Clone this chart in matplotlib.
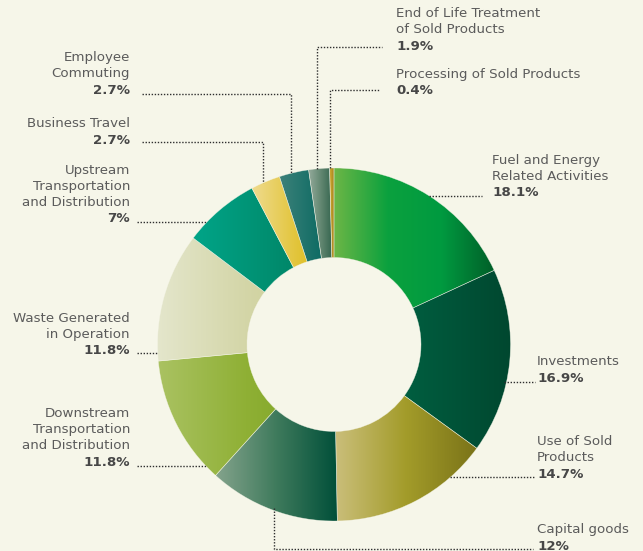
import numpy as np
import matplotlib
matplotlib.use("Agg")
import matplotlib.pyplot as plt
from matplotlib.patches import Wedge
from matplotlib.colors import LinearSegmentedColormap

# Scope 3 emission categories (share of total, %)
categories = [
    "Fuel and Energy\nRelated Activities",
    "Investments",
    "Use of Sold\nProducts",
    "Capital goods",
    "Downstream\nTransportation\nand Distribution",
    "Waste Generated\nin Operation",
    "Upstream\nTransportation\nand Distribution",
    "Business Travel",
    "Employee\nCommuting",
    "End of Life Treatment\nof Sold Products",
    "Processing of Sold Products",
]
shares = [18.1, 16.9, 14.7, 12, 11.8, 11.8, 7, 2.7, 2.7, 1.9, 0.4]
share_labels = ["18.1%", "16.9%", "14.7%", "12%", "11.8%", "11.8%",
                "7%", "2.7%", "2.7%", "1.9%", "0.4%"]

# left-to-right gradient stops for each ring segment
gradients = [
    ["#6cb646", "#0ba13e", "#009a40", "#005e28"],
    ["#006f4d", "#005a3d", "#00472f"],
    ["#cbbf7c", "#a39c2a", "#7a7318"],
    ["#84a38c", "#3e7a5c", "#004f39"],
    ["#aac262", "#8fb035", "#77a01f"],
    ["#e4e6cc", "#d4d6a8", "#c6ca8a"],
    ["#00a588", "#009072", "#007a5c"],
    ["#efdb8e", "#e3c640", "#d8b600"],
    ["#3d817a", "#00655d"],
    ["#93aa9a", "#5e846e", "#2b5d47"],
    ["#d0a830", "#9a7a18"],
]

W, H = 643, 551
BG = "#f6f6e9"
fig = plt.figure(figsize=(W / 100, H / 100), dpi=100, facecolor=BG)
ax = fig.add_axes([0, 0, 1, 1])
ax.set_xlim(0, W)
ax.set_ylim(0, H)
ax.axis("off")
ax.set_facecolor(BG)

plt.rcParams["font.family"] = ["DejaVu Sans"]

cx, cy = 334, H - 344.5
R, r_in = 176.5, 87

# ring segments, clockwise from 12 o'clock
angle = 90.0
for val, stops in zip(shares, gradients):
    sweep = 360.0 * val / sum(shares)
    t1, t2 = angle - sweep, angle
    w = Wedge((cx, cy), R, t1, t2, width=R - r_in, facecolor="none",
              edgecolor="none")
    ax.add_patch(w)
    v = w.get_path().vertices
    x0, x1 = v[:, 0].min(), v[:, 0].max()
    y0, y1 = v[:, 1].min(), v[:, 1].max()
    cmap = LinearSegmentedColormap.from_list("seg", stops)
    im = ax.imshow(np.linspace(0, 1, 256).reshape(1, -1), cmap=cmap,
                   extent=(x0, x1, y0, y1), aspect="auto",
                   interpolation="bilinear", zorder=2)
    im.set_clip_path(w)
    sep = Wedge((cx, cy), R, t1, t2, width=R - r_in, facecolor="none",
                edgecolor=BG, linewidth=0.4, alpha=0.6, zorder=3)
    ax.add_patch(sep)
    angle = t1

ax.set_xlim(0, W)
ax.set_ylim(0, H)


def on_ring_x(y_top, side):
    """x where a horizontal line at pixel row y_top meets the outer rim."""
    dy = (H - y_top) - cy
    dx = np.sqrt(max(R * R - dy * dy, 0))
    return cx + dx if side > 0 else cx - dx


def on_ring_y(x, upper=True):
    """top-based pixel row where a vertical line at x meets the outer rim."""
    dx = x - cx
    dy = np.sqrt(R * R - dx * dx)
    return H - (cy + dy) if upper else H - (cy - dy)


DOT = dict(color="#2e2e2e", linewidth=1.0, linestyle=(0, (1, 1.2)), zorder=4)


def leader(points):
    xs = [p[0] for p in points]
    ys = [H - p[1] for p in points]
    ax.plot(xs, ys, **DOT)


TXT = "#5b5b5b"
BOLD = "#474747"
LH = 16.3


def label(idx, x, y_last, ha):
    lines = categories[idx].split("\n")
    n = len(lines)
    for k, line in enumerate(lines):
        yy = y_last - (n - k) * LH
        ax.text(x, H - yy, line, ha=ha, va="center", fontsize=9.6,
                color=TXT, zorder=5)
    ax.text(x, H - y_last, share_labels[idx], ha=ha, va="center",
            fontsize=9.6, fontweight="bold", color=BOLD, zorder=5)


# right-hand labels
label(0, 492, 193, "left")
leader([(on_ring_x(196, 1), 196), (482, 196)])
label(1, 537, 378, "left")
leader([(on_ring_x(382, 1) - 2, 382), (535, 382)])
label(2, 537, 474, "left")
leader([(450, 477), (534, 477)])
label(3, 537, 546, "left")
leader([(274, on_ring_y(274, upper=False) - 2), (274, 549), (533, 549)])
label(9, 396, 46, "left")
leader([(317, on_ring_y(317)), (317, 47), (382, 47)])
label(10, 396, 91, "left")
leader([(330, on_ring_y(330)), (330, 90), (379, 90)])

# left-hand labels
label(8, 130, 90, "right")
leader([(142, 94), (291, 94), (291, on_ring_y(291))])
label(7, 130, 140, "right")
leader([(142, 142), (263, 142), (263, on_ring_y(263))])
label(6, 130, 219, "right")
leader([(137, 222), (on_ring_x(222, -1), 222)])
label(5, 130, 351, "right")
leader([(137, 353), (on_ring_x(353, -1), 353)])
label(4, 130, 462, "right")
leader([(137, 466), (on_ring_x(466, -1), 466)])

fig.savefig("out.png", dpi=100, facecolor=BG)
